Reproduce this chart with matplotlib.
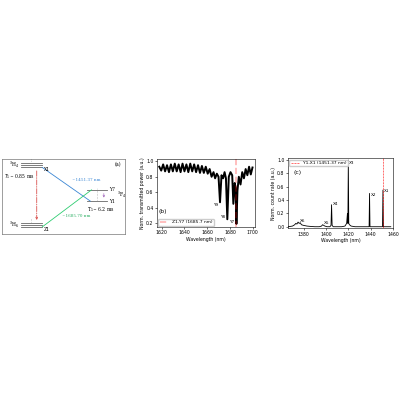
import numpy as np
import matplotlib.pyplot as plt

# --- data -------------------------------------------------------------
# (b) transmission spectrum
wl_b = [1618.0, 1619.7, 1621.4, 1623.1, 1624.8, 1626.5, 1628.2, 1629.9,
        1631.6, 1633.3, 1635.0, 1636.7, 1638.4, 1640.1, 1641.8, 1643.5,
        1645.2, 1646.9, 1648.6, 1650.3, 1652.0, 1653.7, 1655.4, 1657.1,
        1658.8, 1660.5, 1662.2, 1663.9, 1665.6, 1667.0, 1668.5, 1670.0,
        1671.3, 1672.6, 1674.0, 1675.3, 1676.5, 1677.7, 1679.0, 1680.5,
        1682.0, 1683.0, 1684.2, 1685.0, 1685.7, 1686.6, 1687.8, 1689.3,
        1690.8, 1692.3, 1693.8, 1695.3, 1696.8, 1698.3, 1699.8]
tr_b = [0.93, 0.88, 0.96, 0.87, 0.95, 0.86, 0.96, 0.87,
        0.97, 0.87, 0.96, 0.86, 0.97, 0.87, 0.96, 0.86,
        0.97, 0.87, 0.96, 0.86, 0.95, 0.85, 0.94, 0.85,
        0.93, 0.84, 0.90, 0.80, 0.86, 0.78, 0.84, 0.80,
        0.47, 0.82, 0.78, 0.86, 0.78, 0.25, 0.80, 0.86,
        0.82, 0.45, 0.72, 0.66, 0.19, 0.62, 0.80, 0.70,
        0.86, 0.78, 0.90, 0.82, 0.93, 0.83, 0.92]
dip_labels = ["Y9", "Y8", "Y7"]
dip_pos = [(1669.5, 0.44), (1676.0, 0.28), (1684.0, 0.22)]
line_b = 1685.7

# (c) emission spectrum
wl_c = [1366, 1370, 1372, 1373, 1374, 1375, 1376, 1377, 1378, 1380, 1383,
        1386, 1390, 1394, 1396, 1397, 1398, 1399, 1401, 1403.5, 1404.5,
        1405, 1405.5, 1406.5, 1410, 1414, 1417, 1418.5, 1419.2, 1419.6,
        1420, 1420.4, 1421, 1422.5, 1426, 1432, 1437, 1438.6, 1439, 1439.4,
        1442, 1447, 1450.6, 1451.0, 1451.4, 1455, 1458]
cr_c = [0.00, 0.01, 0.03, 0.05, 0.04, 0.07, 0.05, 0.06, 0.03, 0.02, 0.01,
        0.005, 0.00, 0.00, 0.01, 0.03, 0.02, 0.01, 0.00, 0.00, 0.02,
        0.33, 0.02, 0.00, 0.00, 0.00, 0.01, 0.05, 0.20, 0.05,
        1.00, 0.05, 0.03, 0.01, 0.00, 0.00, 0.00, 0.00, 0.50, 0.00,
        0.00, 0.00, 0.00, 0.55, 0.00, 0.00, 0.00]
peak_labels = ["X6", "X5", "X4", "X3", "X2", "X1"]
peak_pos = [(1377, 0.09), (1398, 0.05), (1405.8, 0.34), (1420.5, 0.95),
            (1439.8, 0.48), (1451.8, 0.53)]
line_c = 1451.37

fs = 3.3
plt.rcParams['font.size'] = fs
plt.rcParams['axes.linewidth'] = 0.4
plt.rcParams['xtick.major.width'] = 0.4
plt.rcParams['ytick.major.width'] = 0.4
plt.rcParams['xtick.major.size'] = 1.5
plt.rcParams['ytick.major.size'] = 1.5
plt.rcParams['xtick.major.pad'] = 1
plt.rcParams['ytick.major.pad'] = 1

fig = plt.figure(figsize=(4, 4), dpi=100)

# --- (a) level scheme ------------------------------------------------
axa = fig.add_axes([0.004, 0.415, 0.308, 0.187])
axa.set_xlim(0, 1)
axa.set_ylim(0, 1)
axa.set_xticks([])
axa.set_yticks([])
for s in axa.spines.values():
    s.set_color('#555555')
serif = 'DejaVu Serif'
for y in [0.95, 0.92, 0.895]:
    axa.plot([0.155, 0.33], [y, y], color='#666666', lw=0.6)
for y in [0.145, 0.12, 0.095]:
    axa.plot([0.155, 0.33], [y, y], color='#666666', lw=0.6)
for y in [0.59, 0.44]:
    axa.plot([0.695, 0.855], [y, y], color='#666666', lw=0.6)
axa.plot([0.24, 0.24], [0.97, 1.0], color='#888888', lw=0.4, ls=':')
axa.plot([0.24, 0.24], [0.16, 0.22], color='#888888', lw=0.4, ls=':')
axa.plot([0.775, 0.775], [0.46, 0.62], color='#888888', lw=0.4, ls=':')
axa.annotate('', xy=(0.285, 0.15), xytext=(0.285, 0.88),
             arrowprops=dict(arrowstyle='->', color='#d9534f', lw=0.6, ls='-.'))
axa.annotate('', xy=(0.83, 0.45), xytext=(0.83, 0.58),
             arrowprops=dict(arrowstyle='->', color='#9b59b6', lw=0.4))
axa.plot([0.33, 0.72], [0.89, 0.44], color='#3a86d4', lw=0.6)
axa.plot([0.33, 0.73], [0.095, 0.59], color='#2ecc71', lw=0.6)
axa.text(0.14, 0.925, r'$^3$H$_4$', ha='right', va='center', fontsize=fs, family=serif)
axa.text(0.14, 0.12, r'$^3$H$_6$', ha='right', va='center', fontsize=fs, family=serif)
axa.text(0.345, 0.86, 'X1', ha='left', va='center', fontsize=fs, family=serif)
axa.text(0.345, 0.06, 'Z1', ha='left', va='center', fontsize=fs, family=serif)
axa.text(0.02, 0.77, r'$T_1$~ 0.85 ms', ha='left', va='center', fontsize=fs, family=serif)
axa.text(0.87, 0.6, 'Y7', ha='left', va='center', fontsize=fs, family=serif)
axa.text(0.87, 0.43, 'Y1', ha='left', va='center', fontsize=fs, family=serif)
axa.text(0.94, 0.52, r'$^3$F$_4$', ha='left', va='center', fontsize=fs, family=serif)
axa.text(0.69, 0.33, r'T$_1$~ 6.2 ms', ha='left', va='center', fontsize=fs, family=serif)
axa.text(0.57, 0.72, '~1451.37 nm', ha='left', va='center', fontsize=fs * 0.9,
         family=serif, color='#3a86d4')
axa.text(0.49, 0.24, '~1685.70 nm', ha='left', va='center', fontsize=fs * 0.9,
         family=serif, color='#27ae60')
axa.text(0.97, 0.93, '(a)', ha='right', va='center', fontsize=fs, family=serif)

# --- (b) transmission ------------------------------------------------
axb = fig.add_axes([0.3925, 0.4325, 0.245, 0.17])
axb.plot(wl_b, tr_b, color='black', lw=1.4)
axb.axvline(line_b, color='red', lw=1.2, alpha=0.3, ls='--',
            label='Z1-Y7 (1685.7 nm)')
for lab, (x, y) in zip(dip_labels, dip_pos):
    axb.text(x, y, lab, ha='right', va='center', fontsize=fs * 0.9)
axb.set_xlim(1616, 1702)
axb.set_ylim(0.15, 1.03)
axb.set_xticks([1620, 1640, 1660, 1680, 1700])
axb.set_yticks([0.2, 0.4, 0.6, 0.8, 1.0])
axb.set_xlabel('Wavelength (nm)', labelpad=1)
axb.set_ylabel('Norm. transmitted power (a.u.)', labelpad=1)
axb.text(0.02, 0.2, '(b)', transform=axb.transAxes, fontsize=fs * 1.3)
axb.legend(loc='lower left', frameon=True, handlelength=2, borderpad=0.3,
           fancybox=True, framealpha=1, edgecolor='#cccccc',
           fontsize=fs * 0.95, borderaxespad=0.3)

# --- (c) emission ----------------------------------------------------
axc = fig.add_axes([0.72, 0.429, 0.2625, 0.175])
axc.plot(wl_c, cr_c, color='black', lw=0.6)
axc.axvline(line_c, color='red', lw=0.4, ls='--', label='Y1-X1 (1451.37 nm)')
for lab, (x, y) in zip(peak_labels, peak_pos):
    axc.text(x, y, lab, ha='left', va='center', fontsize=fs * 0.9)
axc.set_xlim(1366, 1458)
axc.set_ylim(-0.025, 1.025)
axc.set_xticks([1380, 1400, 1420, 1440, 1460])
axc.set_yticks([0.0, 0.2, 0.4, 0.6, 0.8, 1.0])
axc.set_xlabel('Wavelength (nm)', labelpad=1)
axc.set_ylabel('Norm. count rate (a.u.)', labelpad=1)
axc.legend(loc='upper left', frameon=True, handlelength=2, borderpad=0.3,
           fancybox=True, framealpha=1, edgecolor='#cccccc',
           fontsize=fs * 0.95, borderaxespad=0.3)
axc.text(0.05, 0.78, '(c)', transform=axc.transAxes, fontsize=fs * 1.3,
         zorder=10)

fig.savefig('out.png', dpi=100)
